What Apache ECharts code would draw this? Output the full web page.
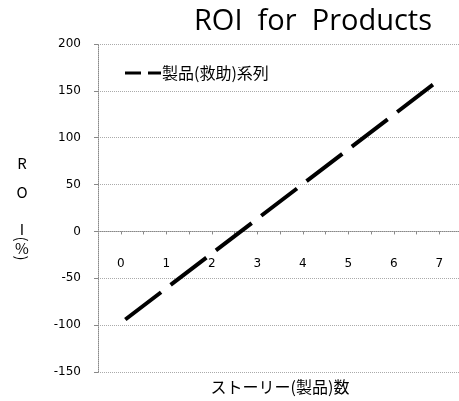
<!DOCTYPE html>
<html>
<head>
<meta charset="utf-8">
<script src="https://cdn.jsdelivr.net/npm/echarts@6/dist/echarts.min.js"></script>
<style>
html,body{margin:0;padding:0;background:#fff;}
#chart{width:459px;height:401px;}
</style>
</head>
<body>
<div id="chart"></div>
<script>
const titleText = 'ROI  for  Products';
const seriesName = '製品(救助)系列';
const xAxisName = 'ストーリー(製品)数';
const yAxisNameChars = ['R', 'O', 'I', '(', '%', ')'];
const xValues = [0.1, 6.9];
const roiValues = [-94, 158];

const chart = echarts.init(document.getElementById('chart'));
const points = xValues.map((x, i) => [x, roiValues[i]]);
const yNameY = [163, 192, 229, 239, 248, 258];
const yNameRot = [0, 0, 0, -Math.PI / 2, 0, -Math.PI / 2];
const yMin = -150, yMax = 200;

chart.setOption({
  animation: false,
  backgroundColor: '#fff',
  title: {
    text: titleText,
    right: 22,
    top: 2,
    textStyle: { fontFamily: 'Open Sans', fontSize: 29, fontWeight: 'normal', color: '#000' }
  },
  legend: {
    left: 120,
    top: 60,
    icon: 'path://M0,0 L16,0 L16,3 L0,3 Z M23,0 L36,0 L36,3 L23,3 Z',
    itemWidth: 36,
    itemHeight: 3,
    itemGap: 2,
    textStyle: { fontFamily: 'Noto Sans CJK JP', fontSize: 16, color: '#000', padding: [0, 0, 0, -4] },
    data: [{ name: seriesName, itemStyle: { color: '#000' } }]
  },
  grid: { left: 98, top: 44, width: 364, height: 328, outerBoundsMode: 'none', containLabel: false },
  xAxis: {
    type: 'value',
    min: -0.5,
    max: 7.5,
    interval: 0.5,
    name: xAxisName,
    nameLocation: 'middle',
    nameGap: 147,
    nameTextStyle: { fontFamily: 'Noto Sans CJK JP', fontSize: 16, color: '#000' },
    axisLine: { onZero: false, lineStyle: { color: '#888', type: 'dotted', width: 1 } },
    axisTick: { show: true, length: 3, lineStyle: { color: '#888' } },
    axisLabel: {
      margin: 26,
      fontFamily: 'DejaVu Sans',
      fontSize: 12,
      color: '#000',
      showMinLabel: false,
      showMaxLabel: false,
      formatter: v => (Number.isInteger(v) && v >= 0 ? String(v) : '')
    },
    splitLine: { show: false }
  },
  yAxis: {
    type: 'value',
    min: yMin,
    max: yMax,
    interval: 50,
    axisLine: { show: true, onZero: false, lineStyle: { color: '#888', type: 'dotted', width: 1 } },
    axisTick: { show: true, length: 4, lineStyle: { color: '#888' } },
    axisLabel: { margin: 17, fontFamily: 'DejaVu Sans', fontSize: 12, color: '#000' },
    splitLine: { show: true, lineStyle: { color: '#aaa', type: 'dotted', width: 1 } }
  },
  graphic: yAxisNameChars.map((ch, i) => ({
    type: 'text',
    x: 22,
    y: yNameY[i],
    rotation: yNameRot[i],
    style: {
      text: ch,
      fontFamily: 'Noto Sans CJK JP',
      fontSize: 15,
      fill: '#000',
      align: 'center',
      verticalAlign: 'middle'
    }
  })),
  series: [{
    name: seriesName,
    type: 'line',
    data: points,
    symbol: 'none',
    lineStyle: { color: '#000', width: 4, type: [45, 12], cap: 'butt' },
    itemStyle: { color: '#000' }
  }]
});

// place the x axis on the y = 0 line, using the library's own y scale
const zeroY = chart.convertToPixel({ yAxisIndex: 0 }, 0);
const bottomY = chart.convertToPixel({ yAxisIndex: 0 }, yMin);
chart.setOption({ xAxis: { offset: zeroY - bottomY } });
</script>
</body>
</html>
